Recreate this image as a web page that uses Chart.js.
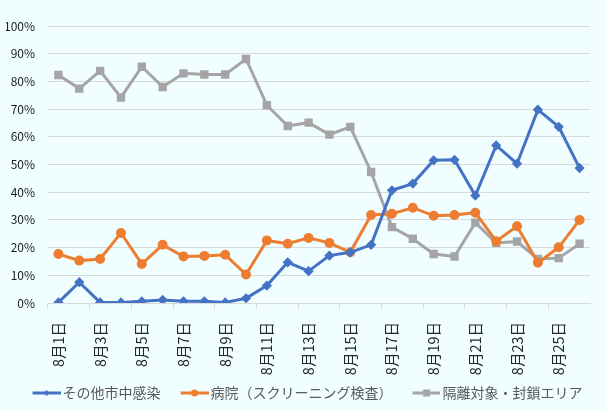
<!DOCTYPE html>
<html>
<head>
<meta charset="utf-8">
<script src="https://cdn.jsdelivr.net/npm/chart.js@4/dist/chart.umd.min.js"></script>
<style>
  html, body { margin: 0; padding: 0; background: #F0FEFF; }
  #wrap { width: 606px; height: 410px; }
</style>
</head>
<body>
<div id="wrap"><canvas id="myChart" width="606" height="410"></canvas></div>
<script>
const days = [];
for (let d = 1; d <= 26; d++) days.push('8月' + d + '日');

const community = [0.2, 7.5, 0.2, 0.2, 0.6, 1.1, 0.6, 0.6, 0.2, 1.7, 6.3, 14.7, 11.5,
  17.1, 18.3, 21.0, 40.7, 43.1, 51.5, 51.7, 38.8, 56.9, 50.3, 69.8, 63.6, 48.7];
const hospital = [17.7, 15.3, 15.9, 25.3, 14.1, 21.0, 16.8, 17.0, 17.4, 10.3, 22.6, 21.4, 23.5,
  21.7, 18.3, 31.8, 32.2, 34.4, 31.5, 31.8, 32.6, 22.3, 27.7, 14.5, 20.1, 30.0];
const quarantine = [82.3, 77.4, 83.8, 74.2, 85.3, 78.0, 82.9, 82.5, 82.5, 88.1, 71.4, 63.9, 65.1,
  60.8, 63.6, 47.3, 27.4, 23.2, 17.7, 16.8, 29.0, 21.7, 22.2, 15.9, 16.2, 21.4];

const seriesNames = ['その他市中感染', '病院（スクリーニング検査）', '隔離対象・封鎖エリア'];
const colors = ['#4472C4', '#ED7D31', '#A5A5A5'];

// legend box is 42 wide; the picture is 52 wide with the line+marker in its right 28px
const LEGEND_BOX = 42;
function legendIcon(color, style) {
  const c = document.createElement('canvas');
  c.width = LEGEND_BOX + 10; c.height = 10;
  const g = c.getContext('2d');
  const x0 = c.width - 28, mid = x0 + 14;
  g.strokeStyle = color; g.fillStyle = color; g.lineWidth = 3;
  g.beginPath(); g.moveTo(x0, 5); g.lineTo(c.width, 5); g.stroke();
  g.beginPath();
  if (style === 'diamond') {
    g.moveTo(mid, 2); g.lineTo(mid + 3, 5); g.lineTo(mid, 8); g.lineTo(mid - 3, 5);
  } else if (style === 'circle') {
    g.arc(mid, 5, 3.5, 0, Math.PI * 2);
  } else {
    g.rect(mid - 3.5, 1.5, 7, 7);
  }
  g.fill();
  return c;
}
const icons = [legendIcon(colors[0], 'diamond'), legendIcon(colors[1], 'circle'), legendIcon(colors[2], 'square')];

const bgPlugin = {
  id: 'bg',
  beforeDraw(chart) {
    const ctx = chart.ctx;
    ctx.save();
    ctx.fillStyle = '#F0FEFF';
    ctx.fillRect(0, 0, chart.width, chart.height);
    ctx.restore();
  }
};

const data = {
  labels: days,
  datasets: [{
    label: seriesNames[0],
    data: community,
    borderColor: colors[0],
    backgroundColor: colors[0],
    borderWidth: 3,
    pointStyle: 'rectRot',
    pointRadius: 3,
    pointHoverRadius: 3,
    order: 1
  }, {
    label: seriesNames[1],
    data: hospital,
    borderColor: colors[1],
    backgroundColor: colors[1],
    borderWidth: 3,
    pointStyle: 'circle',
    pointRadius: 3.5,
    pointHoverRadius: 3.5,
    order: 2
  }, {
    label: seriesNames[2],
    data: quarantine,
    borderColor: colors[2],
    backgroundColor: colors[2],
    borderWidth: 3,
    pointStyle: 'rect',
    pointRadius: 3.8,
    pointHoverRadius: 3.8,
    order: 3
  }]
};

const family = '"Noto Sans CJK JP", "Noto Sans", sans-serif';

const config = {
  type: 'line',
  data: data,
  plugins: [bgPlugin],
  options: {
    responsive: false,
    animation: false,
    layout: { padding: { top: 26, right: 16, left: 6, bottom: 0 } },
    scales: {
      x: {
        offset: true,
        afterFit: (scale) => { scale.paddingLeft = 0; scale.paddingRight = 0; scale.height = 82; },
        border: { display: true, color: '#D9D9D9' },
        grid: {
          offset: true,
          drawOnChartArea: false,
          drawTicks: true,
          tickLength: 6,
          color: (ctx) => (ctx.index % 2 === 0 ? '#D9D9D9' : 'rgba(0,0,0,0)')
        },
        ticks: {
          autoSkip: false,
          minRotation: 90,
          maxRotation: 90,
          padding: 13,
          color: '#262626',
          font: { family: family, size: 14.5 },
          callback: function (v, i) { return i % 2 === 0 ? this.getLabelForValue(v) : ''; }
        }
      },
      y: {
        min: 0,
        max: 100,
        afterFit: (scale) => { scale.width = 42; },
        border: { display: false },
        grid: { color: '#D9D9D9', drawTicks: false },
        ticks: {
          stepSize: 10,
          padding: 13,
          color: '#1A1A1A',
          font: { family: family, size: 12 },
          callback: (v) => v + '%'
        }
      }
    },
    plugins: {
      legend: {
        position: 'bottom',
        labels: {
          usePointStyle: true,
          pointStyleWidth: LEGEND_BOX,
          padding: 1,
          color: '#595959',
          font: { family: family, size: 14 },
          generateLabels: (chart) => chart.data.datasets.map((ds, i) => ({
            text: ds.label,
            fillStyle: colors[i],
            strokeStyle: colors[i],
            lineWidth: 0,
            pointStyle: icons[i],
            hidden: false,
            datasetIndex: i,
            fontColor: '#595959'
          }))
        }
      },
      tooltip: { enabled: false }
    }
  }
};

const myChart = new Chart(document.getElementById('myChart'), config);
</script>
</body>
</html>
